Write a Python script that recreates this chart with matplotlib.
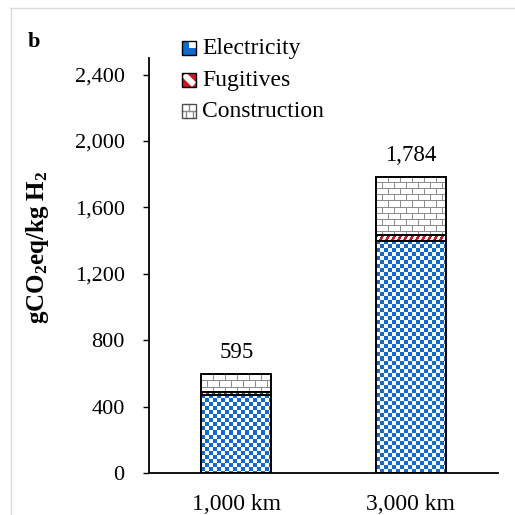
import numpy as np
import matplotlib
matplotlib.use("Agg")
import matplotlib.pyplot as plt
from matplotlib.patches import Rectangle, Polygon
from matplotlib.lines import Line2D
from matplotlib.ticker import FuncFormatter

plt.rcParams['font.family'] = ['Liberation Serif', 'DejaVu Serif']
plt.rcParams['mathtext.fontset'] = 'custom'
plt.rcParams['mathtext.bf'] = 'Liberation Serif:bold'
plt.rcParams['mathtext.rm'] = 'Liberation Serif'
plt.rcParams['mathtext.it'] = 'Liberation Serif:italic'

# Data
categories = ["1,000 km", "3,000 km"]
electricity = [472, 1400]
fugitives = [18, 33]
construction = [105, 351]
totals = [595, 1784]
yticks = [0, 400, 800, 1200, 1600, 2000, 2400]
series_names = ["Electricity", "Fugitives", "Construction"]

BLUE = (0.07, 0.42, 0.80)
RED = (0.78, 0.10, 0.14)
GRAY = (0.55, 0.55, 0.55)
WHITE = (1.0, 1.0, 1.0)

W, H = 515, 515
fig = plt.figure(figsize=(W / 100, H / 100), dpi=100)
ax = fig.add_axes([149 / W, 1 - 473 / H, (498 - 149) / W, (473 - 58) / H])
ax.set_xlim(-0.5, 1.5)
ax.set_ylim(0, 2500)


def pattern(kind, h, w):
    i, j = np.mgrid[0:h, 0:w]
    img = np.ones((h, w, 3))
    if kind == "checker":
        mask = ((i // 4) + (j // 4)) % 2 == 0
        img[mask] = BLUE
    elif kind == "stripes":
        mask = ((i + j) // 3) % 2 == 0
        img[mask] = RED
    elif kind == "brick":
        row = i // 6
        horiz = (i % 6) == 0
        vert = ((j + (row % 2) * 6) % 12) == 0
        img[horiz | vert] = GRAY
    return img


x = np.arange(len(categories))
bw = 0.40
kinds = ["checker", "stripes", "brick"]
stack = [electricity, fugitives, construction]
bottom = np.zeros(len(categories))
for vals, kind in zip(stack, kinds):
    bars = ax.bar(x, vals, bw, bottom=bottom, facecolor="none",
                  edgecolor="black", linewidth=1.4, zorder=3)
    for b in bars:
        x0, y0 = b.get_x(), b.get_y()
        x1, y1 = x0 + b.get_width(), y0 + b.get_height()
        (px0, py0), (px1, py1) = ax.transData.transform([(x0, y0), (x1, y1)])
        pw = max(int(round(px1 - px0)), 1)
        ph = max(int(round(py1 - py0)), 1)
        im = ax.imshow(pattern(kind, ph, pw), extent=(x0, x1, y0, y1),
                       origin="upper", interpolation="nearest",
                       aspect="auto", zorder=2)
        im.set_clip_path(b)
    bottom += np.array(vals)

ax.set_xlim(-0.5, 1.5)
ax.set_ylim(0, 2500)

for xi, t in zip(x, totals):
    ax.annotate(f"{t:,}", (xi, t), xytext=(0, 8), textcoords="offset points",
                ha="center", va="bottom", fontsize=16.5)

ax.set_yticks(yticks)
ax.yaxis.set_major_formatter(FuncFormatter(lambda v, p: f"{int(v):,}"))
ax.set_xticks(x)
ax.set_xticklabels(categories)
ax.tick_params(axis="y", direction="out", length=4.5, width=1.0,
               pad=13, labelsize=16)
ax.tick_params(axis="x", length=0, pad=15, labelsize=17)
for s in ["top", "right"]:
    ax.spines[s].set_visible(False)
ax.spines["left"].set_linewidth(1.3)
ax.spines["bottom"].set_linewidth(1.3)

ax.set_ylabel(r"$\mathbf{gCO_2eq/kg\ H_2}$", fontsize=18)
ax.yaxis.set_label_coords(-0.28, 0.545)

fig.text(28 / W, 1 - 47 / H, "b", fontsize=16, fontweight="bold")


# Legend icons
class IconHandler:
    def __init__(self, kind):
        self.kind = kind

    def legend_artist(self, legend, orig_handle, fontsize, handlebox):
        x0, y0 = handlebox.xdescent, handlebox.ydescent
        s = handlebox.height
        tr = handlebox.get_transform()
        arts = [Rectangle((x0, y0), s, s, facecolor="white", edgecolor="none")]
        if self.kind == "checker":
            arts.append(Rectangle((x0, y0 + s / 2), s / 2, s / 2, facecolor=BLUE, edgecolor="none"))
            arts.append(Rectangle((x0 + s / 2, y0), s / 2, s / 2, facecolor=BLUE, edgecolor="none"))
            arts.append(Rectangle((x0, y0), s / 2, s / 2, facecolor=BLUE, edgecolor="none"))
        elif self.kind == "stripes":
            arts.append(Rectangle((x0, y0), s, s, facecolor=RED, edgecolor="none"))
            arts.append(Polygon([(x0, y0 + s * 0.7), (x0 + s * 0.3, y0 + s),
                                 (x0 + s, y0 + s * 0.3), (x0 + s * 0.7, y0)],
                                closed=True, facecolor="white", edgecolor="none"))
        else:
            arts.append(Line2D([x0, x0 + s], [y0 + s / 2] * 2, color=GRAY, lw=1.0))
            arts.append(Line2D([x0 + s / 2] * 2, [y0 + s / 2, y0 + s], color=GRAY, lw=1.0))
            arts.append(Line2D([x0 + s / 4] * 2, [y0, y0 + s / 2], color=GRAY, lw=1.0))
            arts.append(Line2D([x0 + 3 * s / 4] * 2, [y0, y0 + s / 2], color=GRAY, lw=1.0))
        edge = "black" if self.kind != "brick" else (0.3, 0.3, 0.3)
        arts.append(Rectangle((x0, y0), s, s, facecolor="none", edgecolor=edge, lw=1.0))
        for a in arts:
            a.set_transform(tr)
            handlebox.add_artist(a)
        return arts[0]


handles = [Rectangle((0, 0), 1, 1, label=n) for n in series_names]
leg = ax.legend(handles=handles, labels=series_names,
                handler_map={h: IconHandler(k) for h, k in zip(handles, kinds)},
                loc="upper left", bbox_to_anchor=(182 / W, 1 - 38 / H),
                bbox_transform=fig.transFigure, frameon=False, fontsize=17,
                handlelength=0.55, handleheight=0.55, handletextpad=0.3,
                labelspacing=0.45, borderpad=0, borderaxespad=0)

# light panel border lines
fig.add_artist(Line2D([10 / W, 1], [1 - 8 / H] * 2, color=(0.85, 0.85, 0.85), lw=1.0,
                      transform=fig.transFigure))
fig.add_artist(Line2D([11 / W] * 2, [0, 1 - 8 / H], color=(0.85, 0.85, 0.85), lw=1.0,
                      transform=fig.transFigure))

fig.savefig("out.png", dpi=100)
